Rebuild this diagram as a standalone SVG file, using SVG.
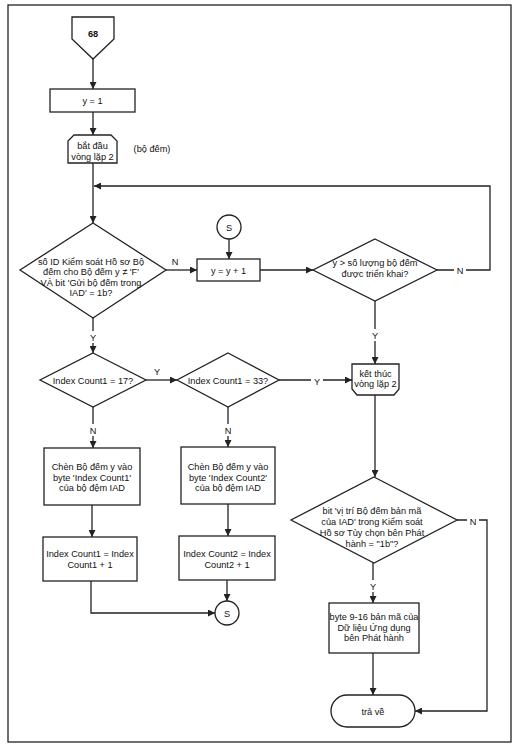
<svg xmlns="http://www.w3.org/2000/svg" width="520" height="748" viewBox="0 0 520 748">
<style>
.s{fill:#fff;stroke:#222;stroke-width:1.3}
.c{fill:none;stroke:#222;stroke-width:1.3}
text{font-family:"Liberation Sans",Arial,sans-serif;font-size:9.2px;fill:#111;text-anchor:middle}
.lb{fill:#fff;stroke:none}
</style>
<defs>
<marker id="a" viewBox="0 0 10 10" refX="10" refY="5" markerWidth="7" markerHeight="7" markerUnits="userSpaceOnUse" orient="auto"><path d="M0,0L10,5L0,10z" fill="#222"/></marker>
</defs>
<rect x="0" y="0" width="520" height="748" fill="#fff"/>
<rect x="8" y="5" width="503" height="737" fill="none" stroke="#222" stroke-width="1.3"/>

<g id="connectors">
<path class="c" d="M93,59V89" marker-end="url(#a)"/>
<path class="c" d="M93,112V135" marker-end="url(#a)"/>
<path class="c" d="M93,163V223" marker-end="url(#a)"/>
<path class="c" d="M437,270H490V186H94" marker-end="url(#a)"/>
<path class="c" d="M166,270H197" marker-end="url(#a)"/>
<path class="c" d="M229,239V259" marker-end="url(#a)"/>
<path class="c" d="M260,270H313" marker-end="url(#a)"/>
<path class="c" d="M375,301V364" marker-end="url(#a)"/>
<path class="c" d="M93,318V353" marker-end="url(#a)"/>
<path class="c" d="M146,380H177" marker-end="url(#a)"/>
<path class="c" d="M279,380H352" marker-end="url(#a)"/>
<path class="c" d="M93,407V448" marker-end="url(#a)"/>
<path class="c" d="M228,407V447" marker-end="url(#a)"/>
<path class="c" d="M92,505V537" marker-end="url(#a)"/>
<path class="c" d="M228,504V536" marker-end="url(#a)"/>
<path class="c" d="M91,581V613H215" marker-end="url(#a)"/>
<path class="c" d="M227,580V601" marker-end="url(#a)"/>
<path class="c" d="M375,395V477" marker-end="url(#a)"/>
<path class="c" d="M457,520H487V711H415" marker-end="url(#a)"/>
<path class="c" d="M373,563V603" marker-end="url(#a)"/>
<path class="c" d="M373,653V695" marker-end="url(#a)"/>
<rect class="lb" x="454" y="264" width="12" height="12"/>
<text x="460" y="273.5">N</text>
<text x="175" y="265">N</text>
<rect class="lb" x="369" y="329" width="12" height="12"/>
<text x="375" y="338.5">Y</text>
<rect class="lb" x="87" y="331" width="12" height="12"/>
<text x="93" y="340.5">Y</text>
<text x="157" y="375">Y</text>
<rect class="lb" x="311" y="375" width="12" height="12"/>
<text x="317" y="384.5">Y</text>
<rect class="lb" x="87" y="424" width="12" height="12"/>
<text x="93" y="433.5">N</text>
<rect class="lb" x="222" y="424" width="12" height="12"/>
<text x="228" y="433.5">N</text>
<rect class="lb" x="467" y="515" width="12" height="12"/>
<text x="473" y="524.5">N</text>
<rect class="lb" x="367" y="580" width="12" height="12"/>
<text x="373" y="589.5">Y</text>
</g>

<g id="start68">
<path class="s" d="M72,17H114V39L93,59L72,39Z"/>
<text x="93" y="37" font-weight="bold">68</text>
</g>
<g id="y1">
<rect class="s" x="50" y="89" width="85" height="23"/>
<text x="92.5" y="104">y = 1</text>
</g>
<g id="loopstart">
<path class="s" d="M74,135H111L117,141V163H68V141Z"/>
<text x="92.5" y="149">bắt đầu</text>
<text x="92.5" y="159.5">vòng lặp 2</text>
<text x="152" y="152">(bộ đếm)</text>
</g>
<g id="dec1">
<path class="s" d="M93,223L166,270L93,318L20,270Z"/>
<text x="91" y="264.5">số ID Kiểm soát Hồ sơ Bộ</text>
<text x="91" y="275">đếm cho Bộ đếm y ≠ 'F'</text>
<text x="91" y="285.5">VÀ bit 'Gửi bộ đếm trong</text>
<text x="91" y="296">IAD' = 1b?</text>
</g>
<g id="s1">
<circle class="s" cx="229" cy="227" r="12"/>
<text x="229" y="230.5">S</text>
</g>
<g id="yinc">
<rect class="s" x="197" y="259" width="63" height="22"/>
<text x="228.5" y="273.5">y = y + 1</text>
</g>
<g id="dec2">
<path class="s" d="M375,239L437,270L375,301L313,270Z"/>
<text x="375" y="266">y &gt; số lượng bộ đếm</text>
<text x="375" y="277">được triển khai?</text>
</g>
<g id="dec3">
<path class="s" d="M93,353L146,380L93,407L40,380Z"/>
<text x="93" y="383.5">Index Count1 = 17?</text>
</g>
<g id="dec4">
<path class="s" d="M228,353L279,380L228,407L177,380Z"/>
<text x="228" y="383.5">Index Count1 = 33?</text>
</g>
<g id="loopend">
<path class="s" d="M352,364H399V389L394,395H357L352,389Z"/>
<text x="375.5" y="376.5">kết thúc</text>
<text x="375.5" y="387">vòng lặp 2</text>
</g>
<g id="ins1">
<rect class="s" x="44" y="448" width="96" height="57"/>
<text x="92" y="470">Chèn Bộ đếm y vào</text>
<text x="92" y="480.5">byte 'Index Count1'</text>
<text x="92" y="491">của bộ đệm IAD</text>
</g>
<g id="ins2">
<rect class="s" x="181" y="447" width="94" height="57"/>
<text x="228" y="470">Chèn Bộ đếm y vào</text>
<text x="228" y="480.5">byte 'Index Count2'</text>
<text x="228" y="491">của bộ đệm IAD</text>
</g>
<g id="inc1">
<rect class="s" x="43" y="537" width="94" height="44"/>
<text x="90" y="557">Index Count1 = Index</text>
<text x="90" y="568">Count1 + 1</text>
</g>
<g id="inc2">
<rect class="s" x="179" y="536" width="96" height="44"/>
<text x="227" y="556.5">Index Count2 = Index</text>
<text x="227" y="567.5">Count2 + 1</text>
</g>
<g id="s2">
<circle class="s" cx="227" cy="613" r="12"/>
<text x="227" y="616.5">S</text>
</g>
<g id="dec5">
<path class="s" d="M374,477L457,520L374,563L291,520Z"/>
<text x="372" y="513.5">bit 'vị trí Bộ đếm bản mã</text>
<text x="372" y="524.5">của IAD' trong Kiểm soát</text>
<text x="372" y="535.5">Hồ sơ Tùy chọn bên Phát</text>
<text x="372" y="546.5">hành = "1b"?</text>
</g>
<g id="copy">
<rect class="s" x="329" y="603" width="90" height="50"/>
<text x="374" y="620">byte 9-16 bản mã của</text>
<text x="374" y="630.5">Dữ liệu Ứng dụng</text>
<text x="374" y="641">bên Phát hành</text>
</g>
<g id="ret">
<rect class="s" x="331" y="695" width="84" height="32" rx="16" ry="16"/>
<text x="373" y="714.5">trả về</text>
</g>
</svg>
